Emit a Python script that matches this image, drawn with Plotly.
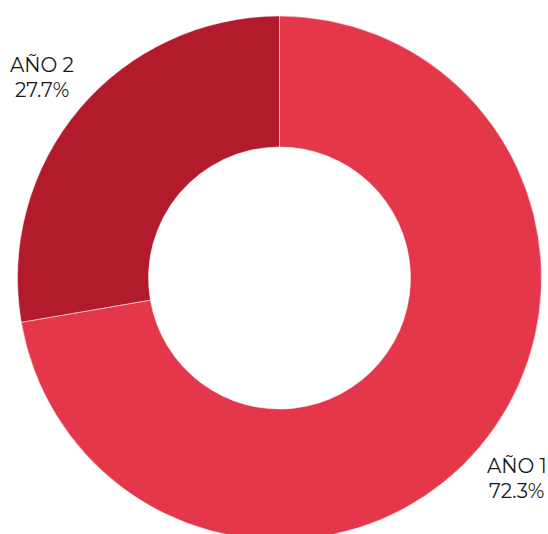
import math
import plotly.graph_objects as go

labels = ["AÑO 1", "AÑO 2"]
values = [72.3, 27.7]
colors = ["#E5374A", "#B31A2C"]

W, H = 548, 546
CX, CY, R = 279.5, 278.0, 262.0
LABEL_K = 1.185
LINE_GAP = 12.4
FONT = dict(family="Montserrat, Inter, Lato, sans-serif", size=20, color="#1a1a1a")

fig = go.Figure(go.Pie(
    labels=labels,
    values=values,
    hole=0.5,
    sort=False,
    direction="clockwise",
    rotation=0,
    textinfo="none",
    marker=dict(colors=colors, line=dict(color="rgba(255,255,255,0.5)", width=1)),
    showlegend=False,
    domain=dict(
        x=[(CX - R) / W, (CX + R) / W],
        y=[1 - (CY + R) / H, 1 - (CY - R) / H],
    ),
    hoverinfo="label+percent",
))

total = sum(values)
cum = 0.0
annotations = []
for lab, val in zip(labels, values):
    mid = (cum + val / 2) / total
    cum += val
    th = 2 * math.pi * mid
    px = CX + LABEL_K * R * math.sin(th)
    py = CY - LABEL_K * R * math.cos(th)
    pct = f"{100 * val / total:.1f}%"
    for txt, dy in ((lab, -LINE_GAP), (pct, LINE_GAP)):
        annotations.append(dict(
            x=px / W, y=1 - (py + dy) / H, xref="paper", yref="paper",
            text=txt, showarrow=False, xanchor="center", yanchor="middle",
            borderpad=0,
            font=FONT,
        ))

fig.update_layout(
    width=W,
    height=H,
    margin=dict(l=0, r=0, t=0, b=0),
    paper_bgcolor="white",
    plot_bgcolor="white",
    annotations=annotations,
)

fig.write_html(
    "out.html",
    config={"displayModeBar": False},
    post_script="document.body.style.overflow='hidden';document.documentElement.style.overflow='hidden';document.body.style.margin='0';",
)
